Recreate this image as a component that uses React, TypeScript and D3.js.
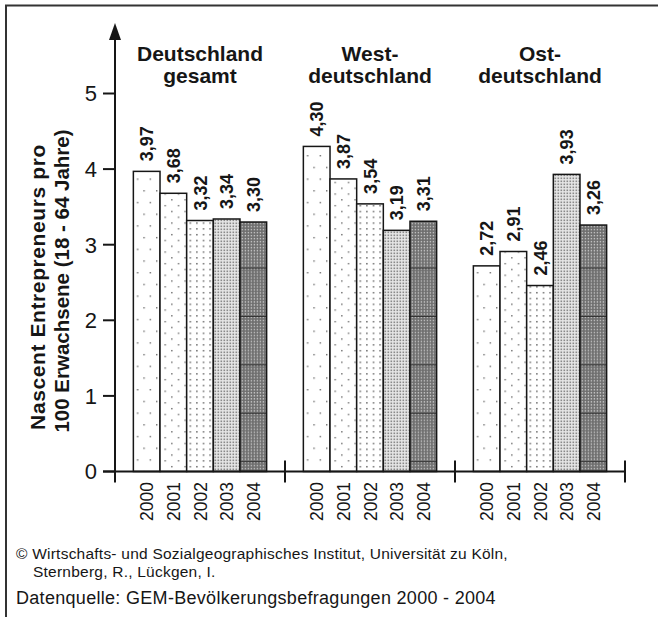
import React from "react";
import * as d3 from "d3";

const regions = ["Deutschland gesamt", "Westdeutschland", "Ostdeutschland"];
const regionTitles = [
  ["Deutschland", "gesamt"],
  ["West-", "deutschland"],
  ["Ost-", "deutschland"],
];
const years = ["2000", "2001", "2002", "2003", "2004"];
const valuesDeutschland = [3.97, 3.68, 3.32, 3.34, 3.3];
const valuesWest = [4.3, 3.87, 3.54, 3.19, 3.31];
const valuesOst = [2.72, 2.91, 2.46, 3.93, 3.26];
const yTicks = [0, 1, 2, 3, 4, 5];
const yTitle = ["Nascent Entrepreneurs pro", "100 Erwachsene (18 - 64 Jahre)"];
const footer1 = "© Wirtschafts- und Sozialgeographisches Institut, Universität zu Köln,";
const footer2 = "Sternberg, R., Lückgen, I.";
const footer3 = "Datenquelle: GEM-Bevölkerungsbefragungen 2000 - 2004";

const seriesByRegion = [valuesDeutschland, valuesWest, valuesOst];

const fmt = (v: number) => v.toFixed(2).replace(".", ",");

export default function App() {
  const W = 658, H = 617;
  const axisX = 115;
  const x0 = d3.scaleBand<string>().domain(regions).range([axisX, 625]);
  const inner = x0.bandwidth() * 0.108;
  const x1 = d3.scaleBand<string>().domain(years).range([inner, x0.bandwidth() - inner]);
  const y = d3.scaleLinear().domain([0, 5]).range([471.5, 93.5]);
  const ink = "#161616";
  const font = "'Liberation Sans', Arial, sans-serif";
  const fills = ["url(#p2000)", "url(#p2001)", "url(#p2002)", "url(#p2003)", "url(#p2004)"];

  return (
    <svg width={W} height={H} style={{ position: "absolute", left: 0, top: 0 }} fontFamily={font}>
      <defs>
        <pattern id="p2000" patternUnits="userSpaceOnUse" width={12.7} height={23.4}>
          <rect width={12.7} height={23.4} fill="#fff" />
          <rect x={3} y={3} width={1.3} height={1.3} fill="#555" />
          <rect x={9.35} y={14.7} width={1.3} height={1.3} fill="#555" />
        </pattern>
        <pattern id="p2001" patternUnits="userSpaceOnUse" width={13.3} height={11.6}>
          <rect width={13.3} height={11.6} fill="#fff" />
          <rect x={3} y={2} width={1.3} height={1.3} fill="#555" />
          <rect x={9.65} y={7.8} width={1.3} height={1.3} fill="#555" />
        </pattern>
        <pattern id="p2002" patternUnits="userSpaceOnUse" width={6.6} height={5.8}>
          <rect width={6.6} height={5.8} fill="#fff" />
          <rect x={2} y={2} width={1.4} height={1.4} fill="#555" />
        </pattern>
        <pattern id="p2003" patternUnits="userSpaceOnUse" width={3} height={3}>
          <rect width={3} height={3} fill="#e6e6e6" />
          <rect x={0.5} y={0.5} width={1.6} height={1.6} fill="#8a8a8a" />
        </pattern>
        <pattern id="p2004base" patternUnits="userSpaceOnUse" width={3} height={3}>
          <rect width={3} height={3} fill="#6e6e6e" />
          <rect x={0.7} y={0.7} width={1.4} height={1.4} fill="#c4c4c4" />
        </pattern>
        <pattern id="p2004" patternUnits="userSpaceOnUse" y={461.2} width={300} height={48.4}>
          <rect width={300} height={48.4} fill="url(#p2004base)" />
          <rect width={300} height={1} y={0} fill="#333" />
        </pattern>
      </defs>

      {/* frame */}
      <line x1={5} x2={W} y1={5.5} y2={5.5} stroke="#333" strokeWidth={2} />
      <line x1={6} x2={6} y1={5} y2={H} stroke="#333" strokeWidth={2} />

      {/* bars */}
      {regions.map((r, ri) => (
        <g key={r} transform={`translate(${x0(r)},0)`}>
          {years.map((yr, yi) => {
            const v = seriesByRegion[ri][yi];
            const bx = x1(yr)!;
            const bw = x1.bandwidth();
            const cx = bx + bw / 2;
            return (
              <g key={yr}>
                <rect x={bx} y={y(v)} width={bw} height={y(0) - y(v)} fill={fills[yi]}
                  stroke={ink} strokeWidth={1.5} />
                <text transform={`translate(${cx + 6.5},${y(v) - 10}) rotate(-90)`}
                  fontSize={18} fontWeight="bold" fill={ink}>{fmt(v)}</text>
                <text transform={`translate(${cx + 6.5},${482}) rotate(-90)`}
                  fontSize={17.5} textAnchor="end" fill={ink}>{yr}</text>
              </g>
            );
          })}
          {regionTitles[ri].map((t, ti) => (
            <text key={ti} x={x0.bandwidth() / 2} y={61 + ti * 22} textAnchor="middle"
              fontSize={21} fontWeight="bold" fill={ink}>{t}</text>
          ))}
        </g>
      ))}

      {/* x axis */}
      <line x1={103} x2={625} y1={y(0)} y2={y(0)} stroke={ink} strokeWidth={2} />
      {regions.map((r) => (
        <line key={r} x1={x0(r)! + x0.bandwidth()} x2={x0(r)! + x0.bandwidth()}
          y1={y(0) - 11} y2={y(0) + 11} stroke={ink} strokeWidth={2} />
      ))}

      {/* y axis */}
      <line x1={axisX} x2={axisX} y1={38} y2={y(0) + 11} stroke={ink} strokeWidth={2} />
      <path d={`M${axisX},23 L${axisX - 6},40 L${axisX + 6},40 Z`} fill={ink} />
      {yTicks.map((t) => (
        <g key={t}>
          <line x1={103} x2={axisX} y1={y(t)} y2={y(t)} stroke={ink} strokeWidth={2} />
          <text x={97} y={y(t)} dy="0.36em" textAnchor="end" fontSize={22} fill={ink}>{t}</text>
        </g>
      ))}
      <text transform={`translate(45,287) rotate(-90)`} textAnchor="middle"
        fontSize={21} fontWeight="bold" letterSpacing={0.6} fill={ink}>{yTitle[0]}</text>
      <text transform={`translate(69,281) rotate(-90)`} textAnchor="middle"
        fontSize={20.5} fontWeight="bold" fill={ink}>{yTitle[1]}</text>

      {/* footer */}
      <text x={16} y={559} fontSize={15.5} letterSpacing={0.23} fill={ink}>{footer1}</text>
      <text x={33} y={577} fontSize={15.5} letterSpacing={0.23} fill={ink}>{footer2}</text>
      <text x={16} y={604} fontSize={18} letterSpacing={0.3} fill={ink}>{footer3}</text>
    </svg>
  );
}
